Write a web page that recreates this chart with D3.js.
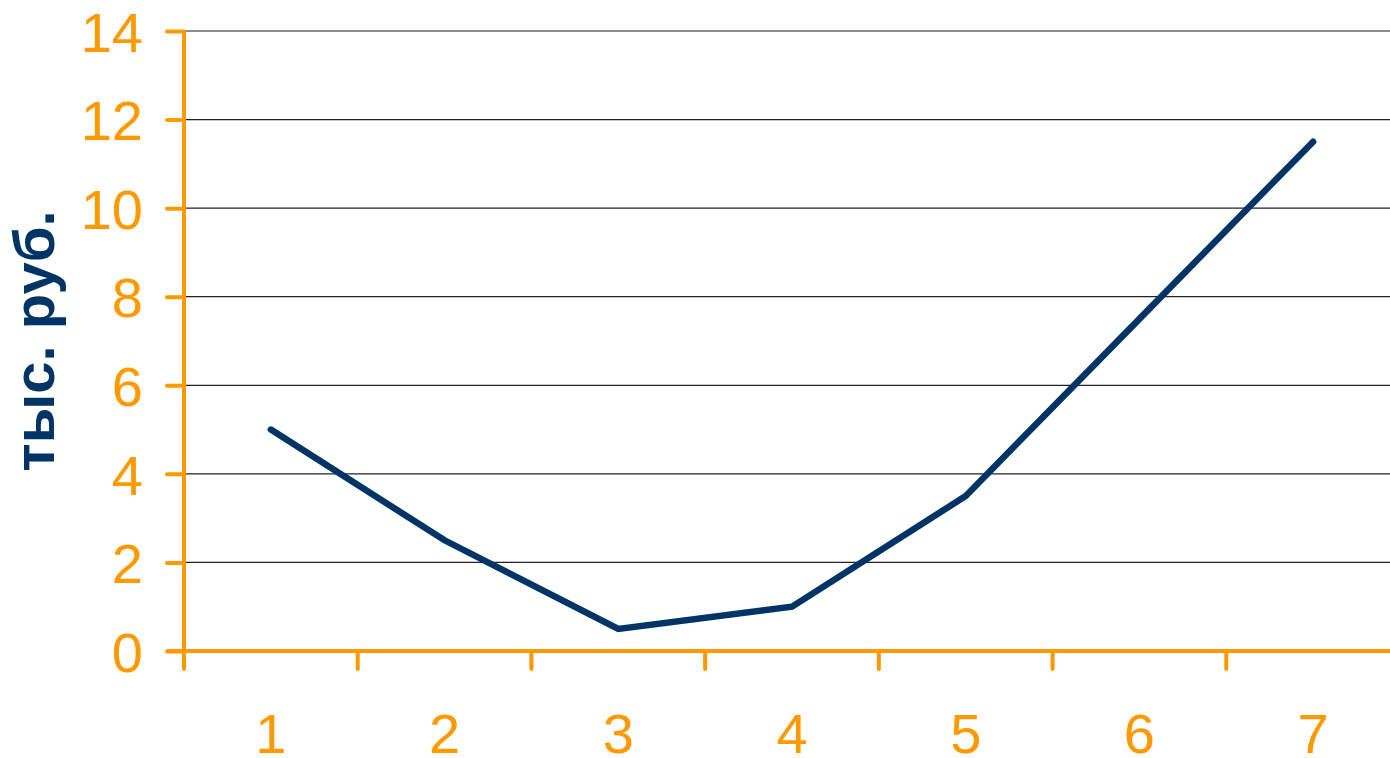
<!DOCTYPE html>
<html>
<head>
<meta charset="utf-8">
<script src="https://cdn.jsdelivr.net/npm/d3@7/dist/d3.min.js"></script>
<style>
  html, body { margin: 0; padding: 0; background: #fff; }
  svg { display: block; }
</style>
</head>
<body>
<svg id="chart" width="1390" height="758"></svg>
<script>
// Values in thousand roubles per period
const categories = ["1", "2", "3", "4", "5", "6", "7"];
const values = [5, 2.5, 0.5, 1, 3.5, 7.5, 11.5];
const yTicks = [0, 2, 4, 6, 8, 10, 12, 14];
const yTitle = "тыс. руб.";

const svg = d3.select("#chart");
const axisColor = "#FF9900";
const lineColor = "#003366";
const plotLeft = 184, plotRight = 1400, plotTop = 31, plotBottom = 651;

const x = d3.scaleBand().domain(categories).range([plotLeft, plotRight]);
const y = d3.scaleLinear().domain([0, 14]).range([plotBottom, plotTop]);

// horizontal gridlines
svg.append("g").selectAll("line")
  .data(yTicks.filter(d => d > 0))
  .join("line")
  .attr("x1", plotLeft).attr("x2", 1390)
  .attr("y1", d => y(d)).attr("y2", d => y(d))
  .attr("stroke", d => d === 14 ? "#8c8c8c" : "#222")
  .attr("stroke-width", d => d === 14 ? 2 : 1.2);

// y axis
const yAxis = svg.append("g")
  .attr("transform", `translate(${plotLeft},0)`)
  .call(d3.axisLeft(y).tickValues(yTicks).tickSize(17).tickPadding(24).tickFormat(d3.format("d")));
yAxis.select(".domain").attr("stroke", axisColor).attr("stroke-width", 4)
  .attr("d", `M0,${plotTop}V${plotBottom}`);
yAxis.selectAll(".tick line").attr("stroke", axisColor).attr("stroke-width", 4).attr("stroke-linecap", "round");
yAxis.selectAll(".tick text")
  .attr("fill", axisColor)
  .attr("font-family", "Liberation Sans, Arial, sans-serif")
  .attr("font-size", 56)
  .attr("dy", "0.36em");

// x axis
const xAxis = svg.append("g")
  .attr("transform", `translate(0,${plotBottom})`)
  .call(d3.axisBottom(x).tickSize(0).tickPadding(62));
xAxis.select(".domain").attr("stroke", axisColor).attr("stroke-width", 4)
  .attr("d", `M${plotLeft - 17},0H1390`);
xAxis.selectAll(".tick text")
  .attr("fill", axisColor)
  .attr("font-family", "Liberation Sans, Arial, sans-serif")
  .attr("font-size", 56);

// x tick marks at category boundaries
const bounds = categories.map(c => x(c)).concat([plotRight]);
svg.append("g").selectAll("line")
  .data(bounds.filter(b => b < 1390))
  .join("line")
  .attr("x1", d => d).attr("x2", d => d)
  .attr("y1", plotBottom).attr("y2", plotBottom + 18)
  .attr("stroke", axisColor).attr("stroke-width", 4).attr("stroke-linecap", "round");

// y axis title
svg.append("text")
  .attr("transform", `translate(54,341) rotate(-90)`)
  .attr("text-anchor", "middle")
  .attr("fill", lineColor)
  .attr("font-family", "Liberation Sans, Arial, sans-serif")
  .attr("font-weight", "bold")
  .attr("font-size", 58)
  .text(yTitle);

// data line
const line = d3.line()
  .x((d, i) => x(categories[i]) + x.bandwidth() / 2)
  .y(d => y(d));
svg.append("path")
  .datum(values)
  .attr("d", line)
  .attr("fill", "none")
  .attr("stroke", lineColor)
  .attr("stroke-width", 6.5)
  .attr("stroke-linecap", "round")
  .attr("stroke-linejoin", "miter");
</script>
</body>
</html>
